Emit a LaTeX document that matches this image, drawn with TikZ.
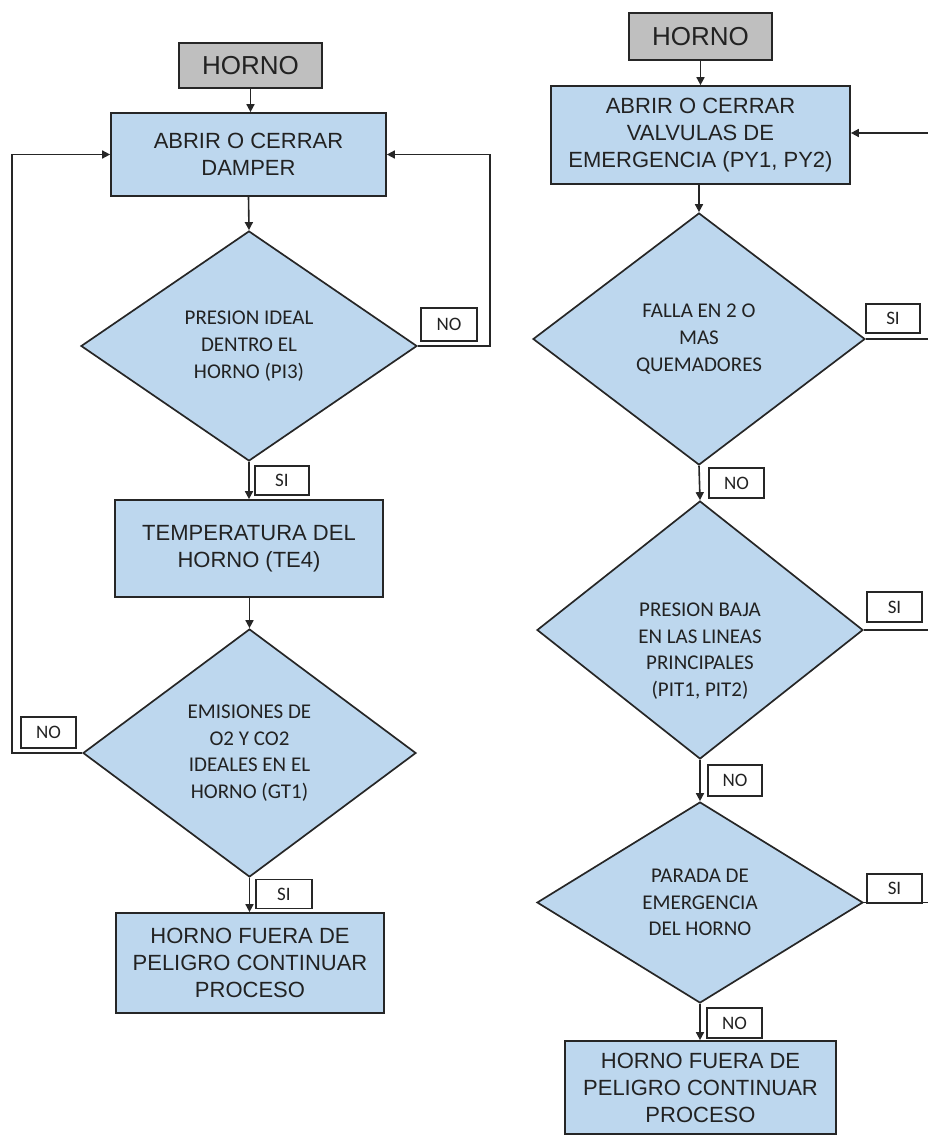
\documentclass[tikz,border=0pt]{standalone}
\usepackage{fontspec}
\setmainfont{Liberation Sans}
\newfontfamily\calfont{Carlito}
\usetikzlibrary{shapes.geometric,arrows.meta}
\definecolor{boxblue}{HTML}{BDD7EE}
\definecolor{boxgray}{HTML}{BFBFBF}
\definecolor{edgeclr}{HTML}{262626}
\definecolor{txtclr}{HTML}{222222}
\tikzset{
  startbox/.style={rectangle, draw=edgeclr, line width=1.7pt, fill=boxgray, text=txtclr,
    inner sep=0pt, font=\fontsize{26}{30}\selectfont},
  procbox/.style={rectangle, draw=edgeclr, line width=1.7pt, fill=boxblue, text=txtclr,
    align=center, inner sep=0pt, font=\fontsize{22}{27}\selectfont},
  decision/.style={diamond, draw=edgeclr, line width=1.7pt, fill=boxblue, text=txtclr,
    align=center, inner sep=0pt, font=\calfont\fontsize{21}{26.7}\selectfont},
  dtext/.style={align=center, text=txtclr, inner sep=0pt, font=\calfont\fontsize{21}{26.7}\selectfont},
  tag/.style={rectangle, draw=edgeclr, line width=1.6pt, fill=white, text=txtclr,
    inner sep=0pt, font=\calfont\fontsize{19}{20}\selectfont},
  flow/.style={draw=edgeclr, line width=1.6pt},
  arr/.style={flow, -{Triangle[length=8pt,width=8pt]}},
}
\begin{document}
\begin{tikzpicture}[x=1pt,y=-1pt]
\useasboundingbox (0,0) rectangle (928,1137);

% ---------- left chart: damper control ----------
\node[startbox, minimum width=143pt, minimum height=45pt] (h1) at (250.5,65.5) {HORNO};
\node[procbox, minimum width=275pt, minimum height=83pt] (b1) at (248.5,154.5) {ABRIR O CERRAR\\DAMPER};
\node[decision, minimum width=336pt, minimum height=230pt] (d1) at (249,346) {PRESION IDEAL\\DENTRO EL\\HORNO (PI3)};
\node[procbox, minimum width=268pt, minimum height=97pt] (b2) at (249,548.5) {TEMPERATURA DEL\\HORNO (TE4)};
\node[decision, minimum width=333pt, minimum height=248pt] (d2) at (249.5,753) {EMISIONES DE\\O2 Y CO2\\IDEALES EN EL\\HORNO (GT1)};
\node[procbox, minimum width=268pt, minimum height=100pt] (b3) at (250,963) {HORNO FUERA DE\\PELIGRO CONTINUAR\\PROCESO};

\draw[arr] (h1.south) -- (h1.south |- b1.north);
\draw[arr] (b1.south) -- (d1.north);
\draw[arr] (d1.south) -- (d1.south |- b2.north);
\draw[arr] (b2.south -| d2.north) -- (d2.north);
\draw[arr] (d2.south) -- (d2.south |- b3.north);
\draw[arr] (d1.east) -- ++(72,0) |- (b1.east);
\draw[arr] (d2.west) -- (12,753) |- (b1.west);

\node[tag, minimum width=56pt, minimum height=33pt] (n1) at (449,324.5) {NO};
\node[tag, minimum width=55pt, minimum height=31pt] (n2) at (48.5,732.5) {NO};
\node[tag, minimum width=54pt, minimum height=29pt] (s1) at (282,480.5) {SI};
\node[tag, minimum width=56pt, minimum height=29pt] (s2) at (284,894) {SI};

% ---------- right chart: emergency valves ----------
\node[startbox, minimum width=143pt, minimum height=47pt] (h2) at (700.5,36.5) {HORNO};
\node[procbox, minimum width=299pt, minimum height=98pt] (r1) at (700.5,135) {ABRIR O CERRAR\\VALVULAS DE\\EMERGENCIA (PY1, PY2)};
\node[decision, minimum width=332pt, minimum height=252pt] (d3) at (699,339) {FALLA EN 2 O\\MAS\\QUEMADORES};
\node[decision, minimum width=326pt, minimum height=258pt] (d4) at (700,630) {};
\node[dtext] (t4) at (700,651) {PRESION BAJA\\EN LAS LINEAS\\PRINCIPALES\\(PIT1, PIT2)};
\node[decision, minimum width=326pt, minimum height=201pt] (d5) at (700,902.5) {PARADA DE\\EMERGENCIA\\DEL HORNO};
\node[procbox, minimum width=271pt, minimum height=93pt] (r2) at (700.5,1087.5) {HORNO FUERA DE\\PELIGRO CONTINUAR\\PROCESO};

\coordinate (e0) at (928,133);
\coordinate (e3) at (928,339);
\coordinate (e4) at (928,630);
\coordinate (e5) at (928,902.5);

\draw[arr] (h2.south) -- (h2.south |- r1.north);
\draw[arr] (r1.south -| d3.north) -- (d3.north);
\draw[arr] (d3.south) -- (d4.north);
\draw[arr] (d4.south) -- (d5.north);
\draw[arr] (d5.south) -- (d5.south |- r2.north);
\draw[arr] (e0) -- (e0 -| r1.east);
\draw[flow] (d3.east) -- (e3);
\draw[flow] (d4.east) -- (e4);
\draw[flow] (d5.east) -- (e5);

\node[tag, minimum width=54pt, minimum height=29pt] (s3) at (893,318.5) {SI};
\node[tag, minimum width=55pt, minimum height=30pt] (n3) at (736.5,483) {NO};
\node[tag, minimum width=55pt, minimum height=30pt] (s4) at (894.5,607) {SI};
\node[tag, minimum width=54pt, minimum height=31pt] (n4) at (735,780.5) {NO};
\node[tag, minimum width=55pt, minimum height=29pt] (s5) at (894.5,888.5) {SI};
\node[tag, minimum width=55pt, minimum height=30pt] (n5) at (734.5,1023) {NO};
\end{tikzpicture}
\end{document}
